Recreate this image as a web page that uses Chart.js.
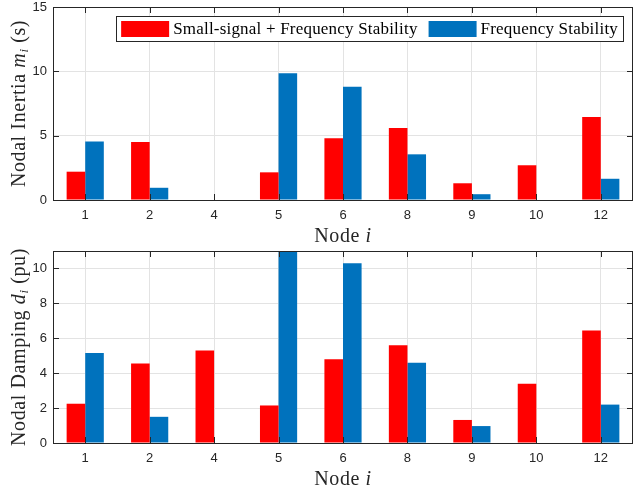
<!DOCTYPE html>
<html>
<head>
<meta charset="utf-8">
<script src="https://cdn.jsdelivr.net/npm/chart.js@4.4.1/dist/chart.umd.min.js"></script>
<style>
  html, body { margin: 0; padding: 0; background: #fff; }
  #wrap { position: relative; width: 634px; height: 491px; }
  .panel { position: absolute; left: 0; width: 634px; }
</style>
</head>
<body>
<div id="wrap">
  <div class="panel" style="top:0;height:245px"><canvas id="inertiaChart"></canvas></div>
  <div class="panel" style="top:245px;height:246px"><canvas id="dampingChart"></canvas></div>
</div>
<script>
// values
const nodes = ['1', '2', '4', '5', '6', '8', '9', '10', '12'];
const inertiaSmallSignal = [2.2, 4.5, 0, 2.15, 4.8, 5.6, 1.3, 2.7, 6.45];
const inertiaFrequency   = [4.55, 0.95, 0, 9.85, 8.8, 3.55, 0.45, 0, 1.65];
const dampingSmallSignal = [2.25, 4.55, 5.3, 2.15, 4.8, 5.6, 1.32, 3.4, 6.45];
const dampingFrequency   = [5.15, 1.5, 0, 12.0, 10.3, 4.6, 0.97, 0, 2.2];
const inertiaTicks = [0, 5, 10, 15];
const dampingTicks = [0, 2, 4, 6, 8, 10];
const seriesNames = ['Small-signal + Frequency Stability', 'Frequency Stability'];
const seriesColors = ['#ff0000', '#0072bd'];

const SANS = '"Liberation Sans", Arial, sans-serif';
const SERIF = '"Liberation Serif", "Times New Roman", serif';
const INK = '#262626';

function drawParts(ctx, parts, cx, cy) {
  let total = 0;
  parts.forEach(p => { ctx.font = p.font; p.w = ctx.measureText(p.text).width; total += p.w; });
  let x = cx - total / 2;
  ctx.textBaseline = 'alphabetic';
  ctx.textAlign = 'left';
  parts.forEach(p => {
    ctx.font = p.font;
    ctx.fillText(p.text, x, cy + (p.dy || 0));
    x += p.w;
  });
}

// box round the plot area with inward ticks, plus axis titles (MATLAB style)
const framePlugin = {
  id: 'frame',
  afterDraw(chart, args, opts) {
    const { ctx, chartArea: a, scales } = chart;
    ctx.save();
    ctx.strokeStyle = INK;
    ctx.lineWidth = 1;
    ctx.strokeRect(a.left + 0.5, a.top + 0.5, a.right - a.left - 1, a.bottom - a.top);
    ctx.beginPath();
    scales.x.ticks.forEach((t, i) => {
      const x = Math.round(scales.x.getPixelForTick(i)) + 0.5;
      ctx.moveTo(x, a.bottom); ctx.lineTo(x, a.bottom - 6);
      ctx.moveTo(x, a.top); ctx.lineTo(x, a.top + 6);
    });
    scales.y.ticks.forEach(t => {
      const y = Math.round(scales.y.getPixelForValue(t.value)) + 0.5;
      ctx.moveTo(a.left, y); ctx.lineTo(a.left + 6, y);
      ctx.moveTo(a.right, y); ctx.lineTo(a.right - 6, y);
    });
    ctx.stroke();

    ctx.fillStyle = INK;
    ctx.letterSpacing = '0.6px';
    const f = '20px ' + SERIF, fi = 'italic 20px ' + SERIF, fs = 'italic 13px ' + SERIF;
    drawParts(ctx, [{ text: 'Node ', font: f }, { text: 'i', font: fi }],
      (a.left + a.right) / 2, a.bottom + 42);

    ctx.translate(25, (a.top + a.bottom) / 2);
    ctx.rotate(-Math.PI / 2);
    drawParts(ctx, [
      { text: opts.label + ' ', font: f },
      { text: opts.sym, font: fi },
      { text: 'i', font: fs, dy: 3 },
      { text: ' ' + opts.unit, font: f }
    ], 0, 0);
    ctx.restore();
  }
};

// legend box drawn inside the upper plot
const legendPlugin = {
  id: 'boxLegend',
  afterDraw(chart, args, opts) {
    if (!opts.show) return;
    const { ctx, chartArea: a } = chart;
    ctx.save();
    ctx.font = '17px ' + SERIF;
    ctx.letterSpacing = '0.2px';
    const sw = 48, gap = 4, sep = 11, pad = 5;
    const items = chart.data.datasets.map(d => ({ text: d.label, color: d.backgroundColor, w: ctx.measureText(d.label).width }));
    let width = pad * 2 + sep * (items.length - 1);
    items.forEach(it => { width += sw + gap + it.w; });
    const right = a.right - 10, top = a.top + 9, h = 25;
    const left = right - width;
    ctx.fillStyle = '#fff';
    ctx.fillRect(left, top, width, h);
    ctx.strokeStyle = INK;
    ctx.lineWidth = 1;
    ctx.strokeRect(Math.round(left) + 0.5, top + 0.5, Math.round(width), h);
    let x = left + pad;
    ctx.textBaseline = 'middle';
    ctx.textAlign = 'left';
    items.forEach(it => {
      ctx.fillStyle = it.color;
      ctx.fillRect(x, top + 5, sw, 16);
      x += sw + gap;
      ctx.fillStyle = '#000';
      ctx.fillText(it.text, x, top + h / 2 + 1);
      x += it.w + sep;
    });
    ctx.restore();
  }
};

function makeChart(id, small, freq, ticks, maxY, axisOpts, showLegend, padTop, xHeight) {
  return new Chart(document.getElementById(id), {
    type: 'bar',
    data: {
      labels: nodes,
      datasets: [
        { label: seriesNames[0], data: small, backgroundColor: seriesColors[0] },
        { label: seriesNames[1], data: freq, backgroundColor: seriesColors[1] }
      ]
    },
    options: {
      responsive: true,
      maintainAspectRatio: false,
      animation: false,
      layout: { padding: { top: padTop, right: 1, left: 0, bottom: 0 } },
      datasets: { bar: { barPercentage: 1, categoryPercentage: 0.577, borderWidth: 0 } },
      plugins: {
        legend: { display: false },
        tooltip: { enabled: false },
        frame: axisOpts,
        boxLegend: { show: showLegend }
      },
      scales: {
        x: {
          offset: true,
          grid: { offset: false, color: '#e3e3e3', drawTicks: false },
          border: { display: false },
          ticks: { color: INK, font: { family: SANS, size: 13 }, padding: 8, maxRotation: 0 },
          afterFit(s) { s.height = xHeight; s.paddingLeft = 0; s.paddingRight = 0; }
        },
        y: {
          min: 0,
          max: maxY,
          afterBuildTicks(s) { s.ticks = ticks.map(v => ({ value: v })); },
          grid: { color: '#e3e3e3', drawTicks: false },
          border: { display: false },
          ticks: { color: INK, font: { family: SANS, size: 13 }, padding: 6 },
          afterFit(s) { s.width = 53; s.paddingTop = 0; s.paddingBottom = 0; }
        }
      }
    },
    plugins: [framePlugin, legendPlugin]
  });
}

makeChart('inertiaChart', inertiaSmallSignal, inertiaFrequency, inertiaTicks, 15,
  { label: 'Nodal Inertia', sym: 'm', unit: '(s)' }, true, 7, 45);
makeChart('dampingChart', dampingSmallSignal, dampingFrequency, dampingTicks, 11,
  { label: 'Nodal Damping', sym: 'd', unit: '(pu)' }, false, 6, 48);
</script>
</body>
</html>
